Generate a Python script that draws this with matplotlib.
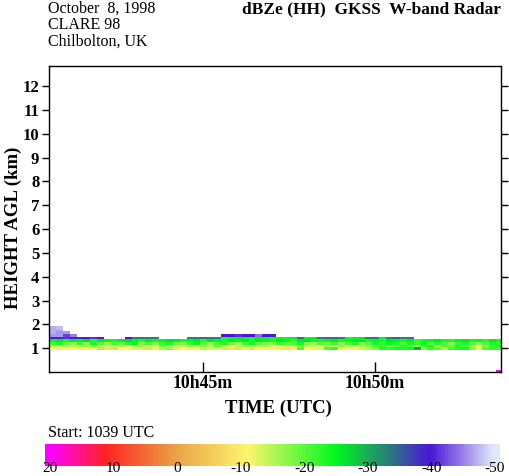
import numpy as np
import matplotlib
matplotlib.use("Agg")
import matplotlib.pyplot as plt
from matplotlib.colors import LinearSegmentedColormap, Normalize

plt.rcParams['font.family'] = ['Liberation Serif', 'DejaVu Serif']

N = np.nan

# ---------------- data ----------------
start_min = 40.52          # minutes after 10:00 UTC
step_min = 0.2             # time bin width (min)
n_cols = 66
height_edges = [0.0, 0.08, 0.92, 1.032, 1.144, 1.256, 1.368, 1.48, 1.592, 1.704, 1.816, 1.928]

row_ground = [N] * 65 + [20]
row_gap = [N] * 66
row0 = [-11,-12,-11,-11,-12,-10,-11,-16,-8,-15, -11,-11,-13,-8,-7,-12,-16,-17,-13,-11,
        -10,-11,-15,-13,-12,-14,-8,-7,-12,-14, -11,-10,-10,-9,-8,-10,-20,-11,-12,-13,
        -21,-22,-12,-11,-10,-14,-15,-18,-23,-22, -24,-23,-24,-31,-17,-22,-20,-15,-21,-23,
        -24,-18,-10,-20,-22,-21]
row1 = [-14,-13,-16,-15,-13,-17,-18,-12,-14,-13, -16,-12,-15,-17,-14,-13,-19,-15,-12,-14,
        -16,-13,-18,-15,-20,-13,-12,-15,-16,-14, -13,-16,-12,-12,-14,-13,-17,-15,-14,-12,
        -16,-13,-18,-14,-13,-16,-17,-20,-22,-19, -21,-23,-20,-17,-22,-24,-16,-21,-19,-23,
        -20,-16,-13,-18,-22,-24]
row2 = [-21,-23,-19,-17,-22,-18,-24,-20,-17,-21, -19,-23,-25,-18,-21,-17,-22,-24,-19,-18,
        -22,-25,-20,-17,-21,-23,-19,-16,-22,-24, -20,-18,-17,-22,-19,-21,-24,-18,-16,-20,
        -19,-22,-17,-21,-23,-18,-20,-24,-22,-25, -23,-21,-24,-22,-25,-20,-23,-21,-18,-22,
        -24,-20,-17,-21,-23,-22]
row3 = [-25,-26,-24,-26,-25,-27,-23,-26,-25,-24, -26,-27,-25,-23,-26,-24,-25,-27,-26,-24,
        -25,-26,-23,-27,-25,-24,-26,-25,-27,-24, -26,-25,-24,-26,-25,-23,-26,-27,-25,-24,
        -25,-26,-24,-25,-27,-26,-24,-25,-23,-26, -25,-24,-26,-22,-24,-25,-26,-24,-23,-25,
        -26,-24,-25,-23,-26,-24]
row4 = ([-40,-39,-41,-40,-39,-40,-41,-40] + [N, N, N] + [-40] + [-33,-34,-33,-33] + [N] * 4 +
        [-33,-33,-34,-33,-33] + [-24,-25,-26,-25,-24,-26,-25,-24] + [-25,-24,-26] + [-33] +
        [-25,-26] + [-33,-34,-33,-33] + [-24,-25,-26] + [-33,-33] + [-25] +
        [-33,-34,-33,-33] + [N] * 13)
row5 = [-46,-46,-42,-45] + [N] * 21 + [-40,-40,-41,-40,-40,-44,-40,-40] + [N] * 33
row6 = [-47,-46,-46] + [N] * 63
row7 = [-47,-47] + [N] * 64
row8 = [-47,-48] + [N] * 64

y_ticks = list(range(1, 13))
x_ticks = [45, 50]
x_ticklabels = ["10h45m", "10h50m"]
cbar_ticks = [20, 10, 0, -10, -20, -30, -40, -50]

# colour scale stops (dBZe, RGB)
cmap_vals = [-50, -40, -33, -25, -11, 0, 11.5, 20]
cmap_rgb = [(225, 232, 250), (75, 20, 215), (40, 130, 120), (0, 250, 30),
            (255, 245, 110), (235, 165, 70), (255, 35, 35), (255, 0, 255)]

# ---------------- figure ----------------
vmin, vmax = -50, 20
cmap = LinearSegmentedColormap.from_list(
    "radar", [((v - vmin) / (vmax - vmin), tuple(c / 255 for c in rgb))
              for v, rgb in zip(cmap_vals, cmap_rgb)])
norm = Normalize(vmin=vmin, vmax=vmax)

W, H = 509, 476
fig = plt.figure(figsize=(W / 100, H / 100), dpi=100)

def fax(l, t, r, b):
    return fig.add_axes([l / W, 1 - b / H, (r - l) / W, (b - t) / H])

def fpos(x, y):
    return x / W, 1 - y / H

ax = fax(49, 66, 501, 372)
t_edges = start_min + step_min * np.arange(n_cols + 1)
Z = np.ma.masked_invalid(np.array([row_ground, row_gap, row0, row1, row2, row3,
                                   row4, row5, row6, row7, row8], dtype=float))
ax.pcolormesh(t_edges, height_edges, Z, cmap=cmap, norm=norm, shading="flat")
ax.set_xlim(t_edges[0], 53.66)
ax.set_ylim(0, 12.85)

ax.set_yticks(y_ticks)
ax.set_yticklabels([str(v) for v in y_ticks], fontsize=12, fontweight="bold")
ax.tick_params(axis="y", which="both", direction="out", length=5, width=1,
               left=True, right=True, pad=2)
ax.set_xticks(x_ticks)
ax.set_xticklabels(x_ticklabels, fontsize=12.8, fontweight="bold")
ax.tick_params(axis="x", direction="in", length=7, width=1, pad=2)
for s in ax.spines.values():
    s.set_linewidth(1)

fig.text(*fpos(278, 408), "TIME (UTC)", fontsize=13.5, fontweight="bold",
         ha="center", va="center")
fig.text(*fpos(13, 228), "HEIGHT AGL (km)", fontsize=13.5, fontweight="bold",
         ha="center", va="center", rotation=90)

fig.text(*fpos(48, 9), "October  8, 1998", fontsize=11.5, va="center", ha="left")
fig.text(*fpos(48, 25), "CLARE 98", fontsize=11.5, va="center", ha="left")
fig.text(*fpos(48, 42), "Chilbolton, UK", fontsize=11.5, va="center", ha="left")
fig.text(*fpos(501, 9), "dBZe (HH)  GKSS  W-band Radar", fontsize=12.5,
         fontweight="bold", va="center", ha="right")
fig.text(*fpos(48, 433), "Start: 1039 UTC", fontsize=11.5, va="center", ha="left")

cax = fax(45, 444, 500, 466)
grad = np.linspace(20.8, -50.8, 400)[None, :]
cax.imshow(grad, cmap=cmap, norm=norm, aspect="auto",
           extent=(20.8, -50.8, 0, 1), interpolation="bilinear")
cax.set_xlim(20.8, -50.8)
cax.set_ylim(0, 1)
cax.axis("off")
for v in cbar_ticks:
    fx = cax.transData.transform((v, 0))[0] / fig.dpi / fig.get_figwidth()
    fig.text(fx, 0.5 / H, str(v), fontsize=11, ha="center", va="bottom", zorder=5)

fig.savefig("out.png", dpi=100)
